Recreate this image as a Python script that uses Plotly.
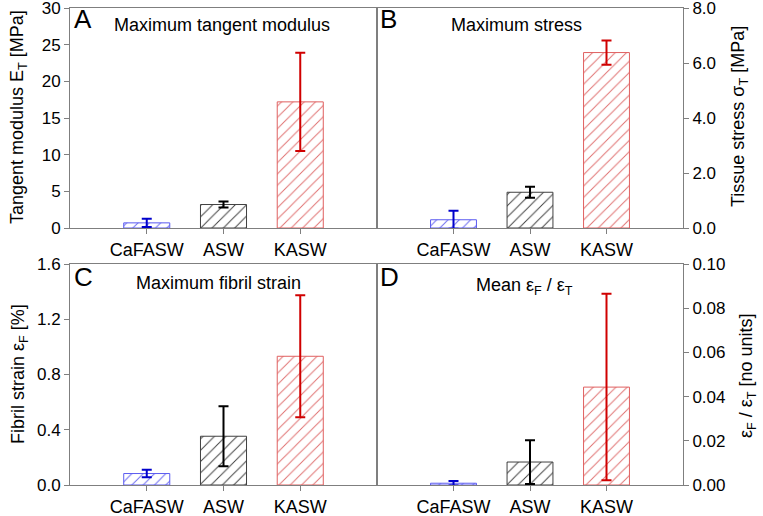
import plotly.graph_objects as go

categories = ["CaFASW", "ASW", "KASW"]

modulus_mean = [0.7, 3.2, 17.2]
modulus_err = [0.55, 0.4, 6.7]

stress_mean = [0.30, 1.30, 6.38]
stress_err = [0.33, 0.20, 0.44]

fibril_mean = [0.083, 0.353, 0.932]
fibril_err = [0.027, 0.217, 0.442]

ratio_mean = [0.0008, 0.0104, 0.0443]
ratio_err = [0.0010, 0.0099, 0.0422]

outline_colors = ["#5a5af0", "#404040", "#e06060"]
hatch_colors = ["#6a6af0", "#404040", "#e07070"]
err_colors = ["#0000cc", "#000000", "#d00000"]

W, H = 763, 516
FONT = "Arial, Liberation Sans, sans-serif"

def px_x(p):
    return p / W

def px_y(p):
    return 1 - p / H

fig = go.Figure()

panels = [
    (modulus_mean, modulus_err, "x", "y"),
    (stress_mean, stress_err, "x2", "y2"),
    (fibril_mean, fibril_err, "x3", "y3"),
    (ratio_mean, ratio_err, "x4", "y4"),
]

for means, errs, xa, ya in panels:
    for i, cat in enumerate(categories):
        fig.add_trace(go.Bar(
            x=[i], y=[means[i]], width=0.6,
            xaxis=xa, yaxis=ya,
            marker=dict(
                color="white",
                line=dict(color=outline_colors[i], width=1),
                pattern=dict(shape="/", fgcolor=hatch_colors[i], bgcolor="white",
                             size=8, solidity=0.12),
            ),
            error_y=dict(type="data", array=[errs[i]], visible=True,
                         color=err_colors[i], thickness=2, width=5),
            showlegend=False, hoverinfo="skip",
        ))

xdom_left = [px_x(70), px_x(377)]
xdom_right = [px_x(377), px_x(683)]
ydom_top = [px_y(228), px_y(8)]
ydom_bot = [px_y(485), px_y(264)]

axis_common = dict(
    showline=True, linecolor="#7f7f7f", linewidth=1, mirror=True,
    ticks="outside", ticklen=5, tickcolor="#7f7f7f", tickwidth=1,
    showgrid=False, zeroline=False, automargin=False,
    ticklabeloverflow="allow",
    tickfont=dict(family=FONT, size=18, color="black"),
)

yfont = dict(family=FONT, size=17, color="black")

xcommon = dict(axis_common, range=[-1.0, 3.0], tickmode="array",
               tickvals=[0, 1, 2], ticktext=categories)

fig.update_layout(
    width=W, height=H, template="none",
    margin=dict(l=0, r=0, t=0, b=0),
    paper_bgcolor="white", plot_bgcolor="white",
    barmode="overlay",
    font=dict(family=FONT, size=18, color="black"),
    xaxis=dict(xcommon, domain=xdom_left, anchor="y"),
    xaxis2=dict(xcommon, domain=xdom_right, anchor="y2"),
    xaxis3=dict(xcommon, domain=xdom_left, anchor="y3"),
    xaxis4=dict(xcommon, domain=xdom_right, anchor="y4"),
    yaxis=dict(axis_common, domain=ydom_top, anchor="x", range=[0, 30],
               dtick=5, tickformat="d", tickfont=yfont),
    yaxis2=dict(axis_common, domain=ydom_top, anchor="x2", side="right",
                range=[0, 8], dtick=2, tickformat=".1f", tickfont=yfont),
    yaxis3=dict(axis_common, domain=ydom_bot, anchor="x3", range=[0, 1.6],
                dtick=0.4, tickformat=".1f", tickfont=yfont),
    yaxis4=dict(axis_common, domain=ydom_bot, anchor="x4", side="right",
                range=[0, 0.10], dtick=0.02, tickformat=".2f", tickfont=yfont),
)

def ann(text, x, y, size=18, angle=0, xanchor="center", yanchor="middle"):
    fig.add_annotation(text=text, x=px_x(x), y=px_y(y), xref="paper", yref="paper",
                       showarrow=False, textangle=angle, xanchor=xanchor, yanchor=yanchor,
                       font=dict(family=FONT, size=size, color="black"))

# panel letters
ann("A", 72, 19, size=26, xanchor="left")
ann("B", 378, 19, size=26, xanchor="left")
ann("C", 72, 277, size=26, xanchor="left")
ann("D", 378, 277, size=26, xanchor="left")

# panel titles
ann("Maximum tangent modulus", 222, 25)
ann("Maximum stress", 516, 25)
ann("Maximum fibril strain", 218, 283)
ann("Mean ε<sub>F</sub> / ε<sub>T</sub>", 524, 286)

# axis titles
ann("Tangent modulus E<sub>T</sub> [MPa]", 19, 117, angle=-90)
ann("Tissue stress σ<sub>T</sub> [MPa]", 740, 117, angle=-90)
ann("Fibril strain ε<sub>F</sub> [%]", 19, 374, angle=-90)
ann("ε<sub>F</sub> / ε<sub>T</sub> [no units]", 747, 376, angle=-90)

fig.write_html("out.html", config={"displayModeBar": False},
               post_script="document.body.style.margin='0';")
